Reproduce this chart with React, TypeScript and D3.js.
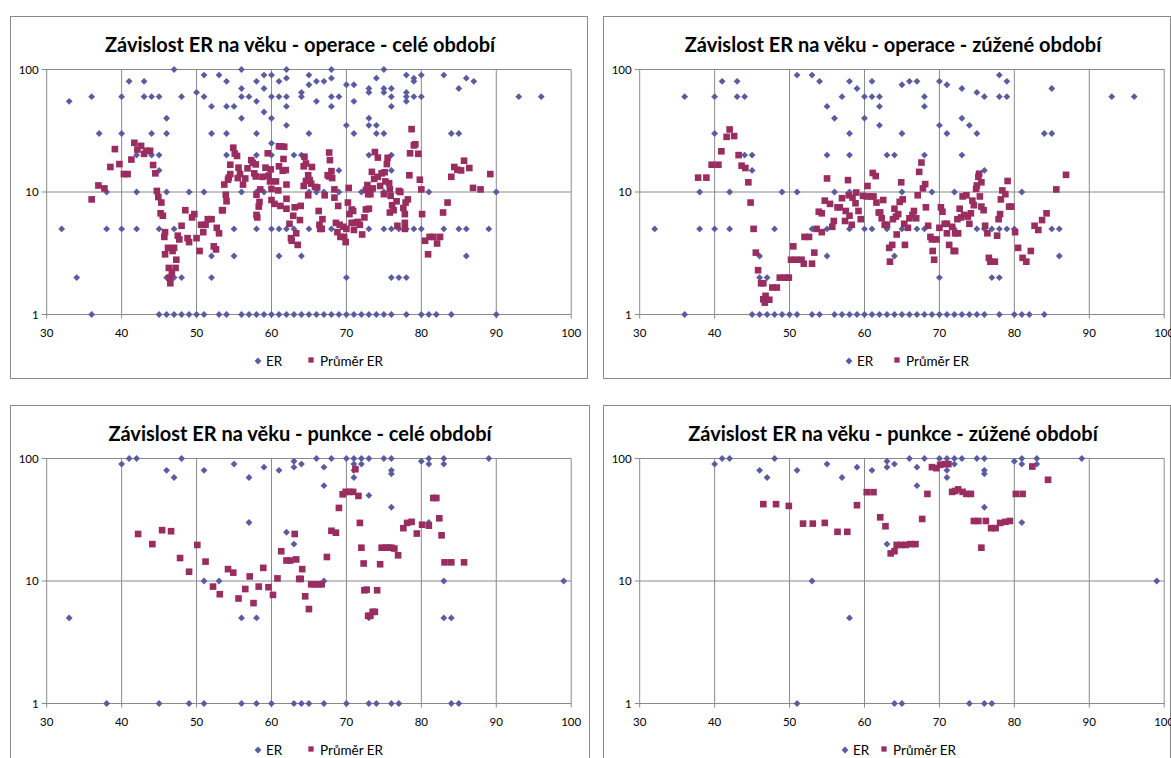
import * as d3 from "d3";

// axis ticks and texts
const xTicks = [30, 40, 50, 60, 70, 80, 90, 100];
const yTicks = [1, 10, 100];
const legendLabels = ["ER", "Průměr ER"];

// ER: [ER level, ages of patients with that level]
const operaceCeleER: [number, number[]][] = [
  [100, [47, 56, 62, 68, 75]],
  [90, [51, 53, 59, 60, 65, 78, 80, 83]],
  [85, [62, 68, 74, 79, 86]],
  [80, [41, 43, 54, 58, 61, 66, 67, 79, 87]],
  [75, [65, 70, 71]],
  [70, [56, 59, 73, 75, 76, 85]],
  [65, [50, 64, 73, 75, 78]],
  [60, [36, 40, 43, 44, 45, 48, 51, 56, 57, 60, 61, 62, 64, 68, 69, 76, 78, 79, 80, 93, 96]],
  [55, [33, 58, 66, 71, 78]],
  [50, [52, 54, 55, 62, 68, 76]],
  [45, [59]],
  [40, [46, 56, 60, 73]],
  [35, [62, 70, 73, 74]],
  [30, [37, 40, 44, 46, 52, 54, 58, 65, 71, 74, 75, 84, 85]],
  [25, [60]],
  [20, [42, 44, 45, 54, 58, 60, 63, 64, 73, 76]],
  [15, [45, 69, 76]],
  [10, [38, 42, 46, 49, 51, 56, 58, 59, 65, 66, 67, 69, 72, 75, 81, 90]],
  [5, [32, 38, 40, 42, 45, 47, 55, 58, 60, 61, 62, 63, 65, 68, 73, 75, 76, 77, 78, 79, 80, 83, 85, 86, 89]],
  [3, [52, 55, 61, 64, 86]],
  [2, [34, 46, 47, 48, 52, 70, 76, 77, 78]],
  [1, [36, 45, 46, 47, 48, 49, 50, 51, 53, 54, 56, 57, 58, 59, 60, 61, 62, 63, 64, 65, 66, 67, 68, 69, 70, 71, 72, 73, 74, 75, 76, 78, 80, 81, 82, 84, 90]],
];

// Průměr ER: [age, average]
const operaceCeleAvg: [number, number][] = [
  [36.0, 8.7], [36.9, 11.3], [37.7, 10.7], [38.5, 16], [39.1, 22.4], [39.7, 16.9], [40.3, 14], [40.8, 14],
  [41.3, 18.4], [41.7, 25.2], [42.1, 22.2], [42.6, 23.8], [43.0, 20.5], [43.3, 21.7], [43.8, 21.7], [44.2, 16.6],
  [44.5, 14.2], [44.7, 10.2], [44.9, 9.1], [45.3, 8.2], [45.2, 6.7], [45.5, 6.4], [45.8, 4.7], [45.7, 4.3],
  [46.2, 3.5], [45.8, 3.1], [46.3, 2.4], [46.4, 2.0], [46.7, 2.2], [46.5, 1.8], [47.0, 3.5], [46.8, 3.3],
  [47.3, 2.8], [47.2, 2.4], [47.5, 4.4], [47.7, 4.1], [48.0, 5.3], [48.5, 7.1], [48.8, 4.2], [49.0, 3.9],
  [49.4, 6.2], [49.7, 6.6], [50.0, 4.2], [50.4, 3.3], [50.6, 5.4], [50.9, 4.7], [51.2, 5.4], [51.5, 6.0],
  [52.0, 6.0], [52.3, 3.6], [52.6, 3.4], [52.7, 5.1], [53.0, 4.6], [53.4, 7.1], [53.5, 7.1], [53.7, 11.5],
  [53.9, 9.5], [54.0, 8.4], [54.2, 12.6], [54.3, 13.1], [54.5, 14], [54.5, 16.7], [54.9, 23], [55.1, 20.6],
  [55.4, 19.7], [55.6, 15.8], [55.5, 13], [55.8, 14], [56.2, 11.5], [56.5, 12.9], [56.8, 15.6], [57.3, 18.2],
  [57.5, 17.3], [57.7, 14.2], [57.9, 16.8], [57.9, 13.4], [58.0, 9.5], [58.4, 8.3], [58.3, 7.6], [58.0, 6.5],
  [58.1, 6.2], [58.5, 10.5], [58.8, 13.3], [59.2, 15.8], [59.5, 20.7], [59.6, 13.6], [59.8, 12.2], [59.9, 15.3],
  [60.0, 10.6], [60.0, 8.6], [60.4, 8.0], [60.6, 12.2], [60.9, 10.3], [61.0, 23.6], [61.0, 16.2], [61.2, 7.7],
  [61.3, 23.6], [61.7, 23.4], [61.6, 18.6], [61.5, 14.9], [61.9, 15.1], [62.0, 11.5], [62.0, 7.3], [62.0, 8.8],
  [62.4, 5.5], [62.6, 4.2], [62.7, 4.0], [62.9, 6.4], [63.1, 7.5], [63.3, 4.6], [63.5, 3.7], [63.8, 5.9],
  [63.9, 7.7], [64.4, 19.4], [64.3, 16.2], [64.6, 17.1], [64.9, 13.7], [65.4, 16], [65.1, 12.5], [64.6, 12.3],
  [64.3, 11.2], [65.3, 11.7], [65.8, 11], [66.1, 10.9], [64.9, 9.4], [67.1, 9.4], [66.3, 7.0], [66.8, 6.0],
  [66.4, 5.4], [66.5, 5.0], [66.7, 5.0], [67.7, 21], [67.8, 18.2], [68.0, 14.8], [67.5, 13.7], [67.7, 13.4],
  [68.1, 13.0], [68.4, 10.5], [68.4, 9.0], [68.9, 7.7], [68.6, 5.6], [68.8, 4.7], [69.1, 5.4], [69.2, 4.3],
  [69.7, 4.3], [69.9, 3.9], [69.6, 5.2], [70.0, 5.0], [70.3, 10.8], [70.2, 8.2], [70.4, 6.6], [70.7, 5.6],
  [70.7, 7.2], [70.9, 7.0], [71.0, 4.9], [71.2, 5.6], [71.5, 5.7], [71.8, 5.4], [72.1, 4.5], [72.4, 6.2],
  [72.6, 7.2], [73.0, 7.3], [72.8, 11.4], [72.6, 10.4], [73.0, 10.4], [72.9, 9.6], [73.2, 9.6], [73.4, 14.6],
  [73.5, 10.7], [73.8, 21.2], [73.7, 12.8], [74.2, 19.1], [74.2, 13.3], [74.7, 14.2], [74.5, 11.2], [75.1, 14.5],
  [75.0, 9.6], [75.2, 12.2], [75.4, 16.9], [75.5, 19], [75.7, 11.8], [75.8, 10.5], [75.9, 9.3], [76.1, 7.8],
  [75.8, 6.8], [76.3, 7.1], [76.7, 8.4], [76.8, 5.3], [77.0, 10.2], [77.2, 10], [77.6, 7.4], [77.9, 8.2],
  [78.2, 8.7], [77.8, 6.6], [77.8, 5.6], [77.8, 5.0], [78.4, 13.7], [78.5, 20.7], [78.7, 32.6], [79.0, 24],
  [79.2, 24.5], [79.6, 20.5], [79.8, 12.6], [80.0, 10.5], [80.1, 6.6], [80.5, 4.0], [81.1, 4.3], [81.6, 4.3],
  [82.5, 4.3], [80.9, 3.1], [82.1, 3.8], [82.9, 6.8], [83.5, 8.2], [84.0, 13.3], [84.4, 16], [84.8, 15.2],
  [85.3, 15], [85.7, 18], [86.4, 15.7], [86.9, 10.8], [87.9, 10.5], [89.2, 14],
];

const operaceZuzeneER: [number, number[]][] = [
  [90, [51, 53, 78]],
  [80, [41, 43, 54, 58, 61, 66, 67, 70, 79]],
  [75, [65, 71]],
  [70, [59, 73, 85]],
  [65, [75]],
  [60, [36, 40, 43, 44, 57, 60, 61, 62, 68, 76, 78, 79, 93, 96]],
  [50, [55, 62, 68]],
  [40, [56, 60, 73]],
  [35, [62, 70, 74]],
  [30, [40, 58, 65, 71, 75, 84, 85]],
  [20, [44, 45, 55, 58, 63, 64, 68, 73]],
  [15, [45, 76]],
  [10, [38, 42, 49, 51, 56, 58, 65, 69, 72, 81]],
  [5, [32, 38, 40, 42, 48, 53, 55, 58, 60, 61, 63, 65, 67, 68, 72, 75, 76, 77, 78, 79, 80, 85, 86]],
  [3, [46, 55, 64, 86]],
  [2, [46, 47, 70, 77, 78]],
  [1, [36, 45, 46, 47, 48, 49, 50, 51, 53, 54, 56, 57, 58, 59, 60, 61, 62, 63, 64, 65, 66, 67, 68, 69, 70, 71, 72, 73, 74, 75, 76, 78, 80, 81, 82, 84]],
];

const operaceZuzeneAvg: [number, number][] = [
  [37.8, 13.1], [38.9, 13.1], [39.6, 16.7], [40.5, 16.7], [40.9, 21.5], [41.6, 28.2], [42.0, 32.4], [42.6, 28.6],
  [43.2, 20], [43.6, 16.4], [44.1, 15.7], [44.5, 12], [44.8, 8.2], [45.2, 5], [45.5, 3.2], [45.8, 2.3],
  [46.2, 1.8], [46.5, 1.8], [46.8, 1.42], [46.5, 1.33], [47.3, 1.32], [46.7, 1.25], [47.7, 1.66], [48.3, 1.66],
  [48.7, 2.0], [49.4, 2.0], [49.9, 2.0], [50.5, 3.6], [50.2, 2.8], [50.9, 2.8], [51.6, 2.8], [51.9, 2.6],
  [52.0, 4.3], [52.6, 4.3], [53.0, 2.6], [53.3, 3.2], [53.6, 5.0], [53.9, 6.9], [54.3, 6.7], [54.3, 4.7],
  [54.7, 8.5], [55.4, 8.0], [55.7, 5.2], [55.9, 5.8], [55.0, 12.9], [56.4, 7.5], [56.7, 7.5], [57.0, 8.9],
  [57.5, 7.0], [57.4, 5.8], [57.8, 12.5], [57.9, 9.4], [58.0, 6.4], [58.3, 5.4], [58.4, 9.0], [58.8, 8.1],
  [58.9, 9.9], [59.2, 7.0], [59.5, 6.0], [59.8, 9.3], [60.4, 11.2], [60.3, 9.2], [60.8, 9.2], [61.1, 14.3],
  [61.2, 9.2], [61.5, 13.5], [61.6, 8.2], [61.9, 6.8], [62.1, 6.8], [62.3, 6.1], [62.5, 8.6], [62.7, 5.4],
  [63.0, 5.4], [63.8, 6.0], [63.7, 3.7], [63.3, 3.5], [63.4, 2.7], [64.0, 7.3], [64.3, 4.5], [64.2, 6.3],
  [64.5, 6.6], [64.7, 8.3], [64.9, 12], [65.1, 8.7], [65.3, 5.5], [65.4, 3.7], [65.8, 5.1], [66.0, 6.1],
  [66.4, 6.5], [66.6, 7.0], [66.9, 6.1], [67.1, 9.4], [67.3, 14.6], [67.6, 17.4], [67.8, 10.7], [68.1, 11.6],
  [68.2, 7.5], [68.5, 5.3], [68.8, 4.3], [69.0, 4.1], [69.1, 3.3], [69.3, 2.8], [69.6, 4.1], [70.0, 5.1],
  [70.2, 7.5], [70.4, 6.9], [70.7, 5.5], [71.0, 5.5], [71.0, 4.6], [71.3, 3.7], [71.9, 3.3], [72.1, 3.3],
  [71.7, 5.2], [72.1, 4.6], [72.5, 4.6], [72.4, 6.0], [72.7, 7.3], [72.9, 6.2], [73.1, 9.2], [73.3, 6.5],
  [73.6, 9.4], [73.8, 6.3], [74.0, 5.5], [74.2, 6.7], [74.4, 8.5], [74.6, 7.8], [74.9, 10.6], [75.0, 11.3],
  [75.2, 13.3], [75.3, 14.1], [75.6, 12], [75.4, 9.2], [75.6, 7.6], [75.9, 7.1], [76.1, 5.3], [76.4, 4.6],
  [76.6, 2.9], [76.8, 2.7], [77.4, 2.7], [77.7, 4.4], [77.9, 6.0], [78.1, 6.6], [78.2, 8.7], [78.4, 10.3],
  [78.8, 9.6], [79.1, 12.3], [79.3, 7.6], [79.6, 7.6], [80.1, 4.7], [80.5, 3.5], [81.1, 2.9], [81.6, 2.7],
  [82.2, 3.3], [82.7, 5.3], [83.2, 4.9], [83.7, 5.9], [84.3, 6.7], [85.6, 10.5], [86.9, 13.8],
];

const punkceCeleER: [number, number[]][] = [
  [100, [41, 42, 48, 66, 68, 70, 71, 72, 73, 75, 76, 81, 83, 89]],
  [95, [63, 80]],
  [90, [40, 55, 64, 71, 72, 81, 83]],
  [85, [59, 63, 67]],
  [80, [46, 51, 61, 71, 76]],
  [75, [76]],
  [70, [47, 57, 71]],
  [60, [67]],
  [50, [73]],
  [40, [76]],
  [30, [57, 81]],
  [25, [62]],
  [20, [63]],
  [10, [51, 53, 67, 83, 99]],
  [5, [33, 56, 58, 73, 83, 84]],
  [1, [38, 45, 49, 51, 56, 58, 60, 63, 64, 65, 67, 70, 73, 74, 76, 77, 84, 85]],
];

const punkceCeleAvg: [number, number][] = [
  [42.2, 24.2], [44.1, 20], [45.4, 26], [46.6, 25.5], [47.8, 15.4], [49.0, 11.9], [50.1, 19.7], [51.2, 14.4],
  [52.2, 9.0], [53.1, 7.8], [54.2, 12.5], [54.9, 11.7], [55.6, 7.2], [56.5, 8.6], [57.1, 10.9], [57.6, 6.6],
  [58.3, 9.0], [58.9, 12.8], [59.6, 8.9], [60.2, 7.7], [60.8, 10.5], [61.3, 17.5], [62.0, 14.7], [62.5, 14.7],
  [63.1, 24.2], [63.3, 15], [63.7, 10.4], [63.9, 10.4], [64.1, 12.5], [64.5, 7.5], [65.0, 5.9], [65.3, 9.4],
  [65.8, 9.4], [66.3, 9.4], [66.7, 9.4], [67.4, 15.7], [68.0, 25.7], [68.6, 24.8], [69.0, 39.5], [69.5, 51],
  [69.9, 53.4], [70.4, 53.4], [70.9, 53.4], [71.2, 81.8], [71.6, 49.5], [71.8, 29.8], [72.0, 18.7], [72.3, 13.9],
  [72.4, 8.4], [72.7, 8.5], [72.9, 5.2], [73.2, 5.2], [73.5, 5.6], [73.8, 5.6], [74.1, 8.4], [74.5, 13.7],
  [74.7, 18.7], [75.2, 18.7], [75.6, 18.7], [76.0, 18.7], [76.4, 18.4], [76.9, 16.2], [77.6, 27], [78.1, 29.8],
  [78.7, 30.4], [79.4, 24.4], [80.1, 28.8], [81.0, 28.3], [81.6, 47.6], [82.0, 47.6], [82.4, 32.5], [82.7, 23.6],
  [83.1, 14.2], [84.0, 14.2], [85.7, 14.2],
];

const punkceZuzeneER: [number, number[]][] = [
  [100, [41, 42, 48, 66, 68, 70, 71, 72, 73, 75, 76, 81, 83, 89]],
  [95, [63, 80]],
  [90, [40, 55, 64, 72, 81, 83]],
  [85, [59, 63, 67]],
  [80, [46, 51, 61, 71, 76]],
  [75, [76]],
  [70, [47, 57, 71]],
  [60, [67]],
  [40, [76]],
  [30, [81]],
  [20, [63]],
  [10, [53, 99]],
  [5, [58]],
  [1, [51, 64, 65, 74, 76, 77]],
];

const punkceZuzeneAvg: [number, number][] = [
  [46.5, 42.4], [48.2, 42.4], [49.9, 41], [51.8, 29.4], [53.1, 29.4], [54.7, 29.8], [56.4, 25.2], [57.7, 25.2],
  [59.0, 41.6], [60.3, 53.1], [61.2, 53.1], [62.1, 33.1], [62.8, 28], [63.5, 16.8], [64.0, 17.5], [64.3, 19.7],
  [64.9, 19.7], [65.5, 19.7], [66.1, 20], [66.8, 20], [67.7, 32.1], [68.4, 51.4], [69.0, 85], [69.6, 83.4],
  [70.1, 88.8], [70.7, 90], [71.2, 90], [71.7, 53.4], [72.1, 54.3], [72.5, 56], [73.1, 53.4], [73.6, 51.4],
  [74.2, 51.4], [74.6, 30.9], [75.2, 30.9], [75.6, 18.7], [76.2, 30.9], [76.9, 27], [77.5, 27], [78.1, 29.8],
  [78.8, 30.4], [79.4, 30.9], [80.2, 51.4], [81.1, 51.4], [82.4, 86], [84.5, 67],
];

const panels = [
  { title: "Závislost ER na věku - operace - celé období", er: operaceCeleER, avg: operaceCeleAvg, fx: 10, fy: 16, fw: 577, legend: [258, 311] },
  { title: "Závislost ER na věku - operace - zúžené období", er: operaceZuzeneER, avg: operaceZuzeneAvg, fx: 603, fy: 16, fw: 567, legend: [849, 897] },
  { title: "Závislost ER na věku - punkce - celé období", er: punkceCeleER, avg: punkceCeleAvg, fx: 10, fy: 405, fw: 579, legend: [258, 311] },
  { title: "Závislost ER na věku - punkce - zúžené období", er: punkceZuzeneER, avg: punkceZuzeneAvg, fx: 603, fy: 405, fw: 567, legend: [845, 884] },
];

const blue = "#5a5c9f";
const plum = "#9a2d60";
const grid = "#8a8a8a";
const font = "Lato, 'Open Sans', sans-serif";

const diamond = d3.symbol().type(d3.symbolDiamond2).size(30)()!;
const square = d3.symbol().type(d3.symbolSquare).size(44)()!;
const legendSquare = d3.symbol().type(d3.symbolSquare).size(28)()!;

function Panel({ p }: { p: (typeof panels)[number] }) {
  const left = p.fx + 36.7;
  const top = p.fy + 53.5;
  const x = d3.scaleLinear().domain([30, 100]).range([left, left + 524.5]);
  const y = d3.scaleLog().domain([1, 100]).range([top + 245, top]);
  const erPoints = p.er.flatMap(([v, ages]) => ages.map((a) => [a, v] as [number, number]));
  const bottom = y(1);

  return (
    <g>
      <rect x={p.fx + 0.5} y={p.fy + 0.5} width={p.fw} height={362} fill="#fff" stroke={grid} />
      <text x={p.fx + 290} y={p.fy + 36} textAnchor="middle" fontFamily={font} fontWeight={700} fontSize={20} fill="#000">
        {p.title}
      </text>
      {xTicks.map((t) => (
        <g key={"x" + t}>
          <line x1={x(t)} x2={x(t)} y1={top} y2={bottom + 4} stroke={grid} />
          <text x={x(t)} y={bottom + 22} textAnchor="middle" fontFamily={font} fontSize={11.5} fill="#000">{t}</text>
        </g>
      ))}
      {yTicks.map((t) => (
        <g key={"y" + t}>
          <line x1={left - 5} x2={x(100)} y1={y(t)} y2={y(t)} stroke={grid} />
          <text x={left - 8} y={y(t) + 4} textAnchor="end" fontFamily={font} fontSize={11.5} fill="#000">{t}</text>
        </g>
      ))}
      {erPoints.map(([a, v], i) => (
        <path key={"e" + i} d={diamond} transform={`translate(${x(a)},${y(v)})`} fill={blue} />
      ))}
      {p.avg.map(([a, v], i) => (
        <path key={"m" + i} d={square} transform={`translate(${x(a)},${y(v)})`} fill={plum} />
      ))}
      <path d={diamond} transform={`translate(${p.legend[0]},${p.fy + 345})`} fill={blue} />
      <text x={p.legend[0] + 8} y={p.fy + 350} fontFamily={font} fontSize={13.5} fill="#000">{legendLabels[0]}</text>
      <path d={legendSquare} transform={`translate(${p.legend[1]},${p.fy + 344})`} fill={plum} />
      <text x={p.legend[1] + 9} y={p.fy + 350} fontFamily={font} fontSize={13.5} fill="#000">{legendLabels[1]}</text>
    </g>
  );
}

export default function App() {
  return (
    <svg width={1171} height={758} style={{ position: "absolute", left: 0, top: 0, background: "#fff" }}>
      {panels.map((p, i) => (
        <Panel key={i} p={p} />
      ))}
    </svg>
  );
}
